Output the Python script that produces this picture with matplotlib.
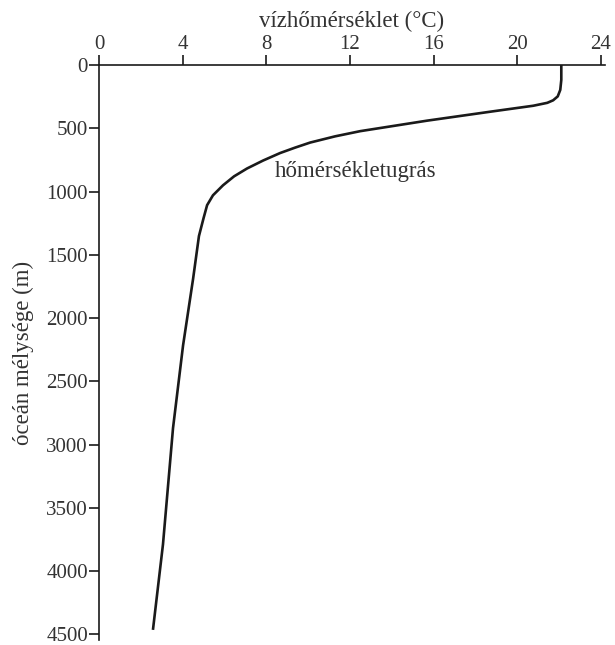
import matplotlib
matplotlib.use("Agg")
import matplotlib.pyplot as plt

# Data
temperature_c = [22.11, 22.11, 22.06, 21.94, 21.72, 21.44, 20.77, 18.85, 15.69, 12.49,
                 11.29, 10.10, 9.38, 8.66, 7.85, 7.08, 6.46, 5.93, 5.45, 5.17,
                 5.00, 4.78, 4.50, 4.02, 3.54, 3.06, 2.58]
depth_m = [0, 118, 197, 248, 279, 299, 322, 366, 440, 523,
           564, 613, 653, 696, 755, 818, 880, 951, 1030, 1108,
           1211, 1352, 1690, 2217, 2870, 3789, 4465]
x_ticks = [0, 4, 8, 12, 16, 20, 24]
y_ticks = [0, 500, 1000, 1500, 2000, 2500, 3000, 3500, 4000, 4500]
x_label = "vízhőmérséklet (°C)"
y_label = "óceán mélysége (m)"
annotation = "hőmérsékletugrás"

plt.rcParams['font.family'] = ['Liberation Serif', 'DejaVu Serif']
text_color = "#333333"
fs_tick = 15
fs_label = 16.5

fig = plt.figure(figsize=(6.15, 6.45), dpi=100)
ax = fig.add_axes([99 / 615, 1 - 640 / 645, 506 / 615, 575 / 645])

ax.plot(temperature_c, depth_m, color="#1a1a1a", lw=1.9, solid_joinstyle="round",
        solid_capstyle="butt")

ax.set_xlim(0, 24.2)
ax.set_ylim(4545, 0)
ax.xaxis.set_ticks_position("top")
ax.xaxis.set_label_position("top")
ax.set_xticks(x_ticks)
ax.set_yticks(y_ticks)
ax.spines["right"].set_visible(False)
ax.spines["bottom"].set_visible(False)
for s in ("top", "left"):
    ax.spines[s].set_linewidth(1.2)
    ax.spines[s].set_color("#1a1a1a")
ax.tick_params(axis="both", direction="out", length=7, width=1.2, colors="#1a1a1a",
               labelsize=fs_tick, labelcolor=text_color, pad=1)
ax.set_xlabel(x_label, fontsize=fs_label, color=text_color, labelpad=6)
ax.set_ylabel(y_label, fontsize=fs_label, color=text_color, labelpad=9)

ax.text(8.4, 845, annotation, fontsize=fs_label, color=text_color, va="center", ha="left")

fig.savefig("out.png", dpi=100)
